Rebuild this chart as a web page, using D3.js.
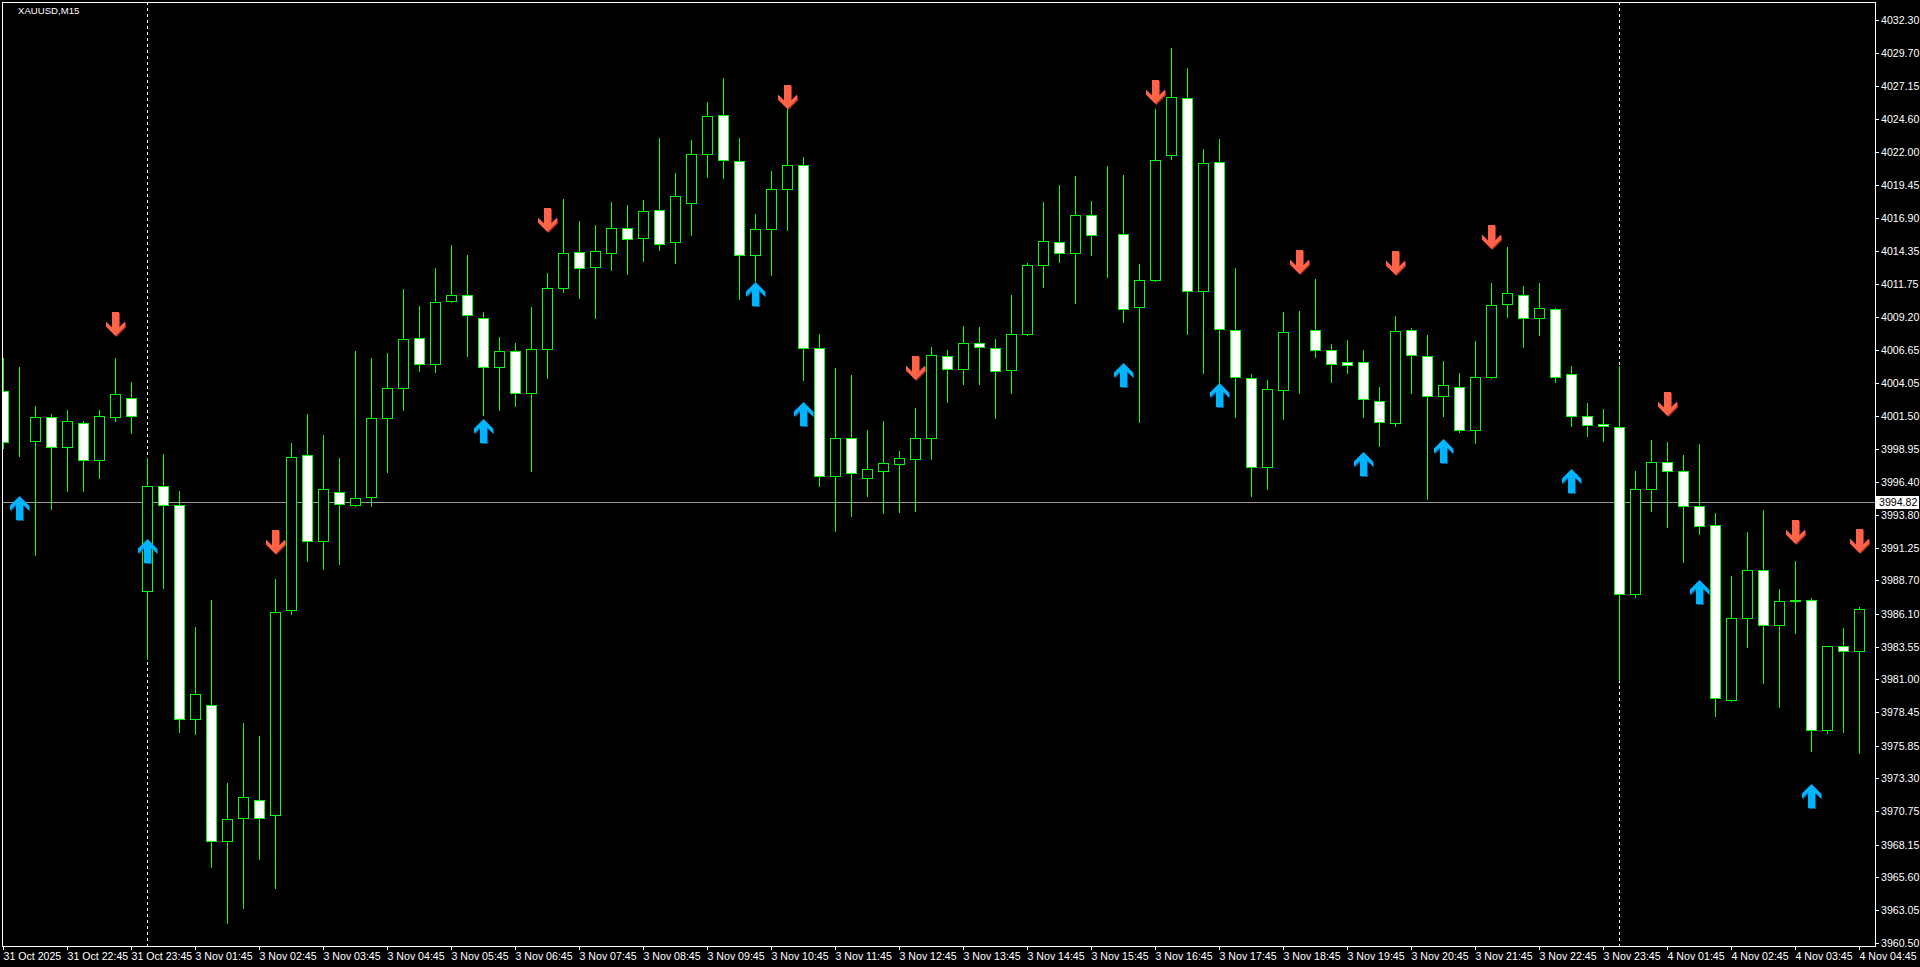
<!DOCTYPE html>
<html><head><meta charset="utf-8">
<script src="https://cdn.jsdelivr.net/npm/d3@7"></script>
<style>html,body{margin:0;padding:0;background:#000;overflow:hidden}svg{display:block}</style>
</head><body><svg id="c" width="1920" height="967"></svg>
<script>
const symbolTitle = "XAUUSD,M15";
const opens = [4003.46,3999.50,3999.56,4001.43,3999.05,4000.98,3998.05,4001.43,4002.91,3987.92,
3996.08,3994.60,3977.96,3979.03,3968.42,3970.19,3971.64,3970.42,3986.38,3998.49,
3991.81,3995.59,3994.60,3995.23,4001.37,4003.70,4007.59,4005.57,4010.47,4010.93,
4009.15,4005.34,4006.58,4003.31,4006.74,4011.48,4014.28,4013.12,4014.20,4016.15,
4015.34,4017.55,4015.03,4018.07,4021.88,4024.94,4021.36,4014.05,4016.07,4019.18,
4021.05,4006.82,3996.79,3999.82,3996.71,3997.25,3997.80,3998.18,3999.82,4006.17,
4005.16,4007.18,4006.82,4005.08,4007.90,4013.27,4015.03,4014.18,4017.16,4015.65,
4015.68,4010.00,4012.10,4021.80,4026.25,4011.24,4021.28,4008.21,4004.48,3997.56,
4003.55,4008.11,4008.21,4006.66,4005.72,4005.72,4002.69,4000.98,4008.21,4006.19,
4003.08,4003.78,4000.44,4004.56,4010.23,4010.91,4009.15,4009.85,4004.79,4001.53,
4000.90,4000.67,3987.66,3995.85,3997.95,3997.25,3994.53,3992.98,3979.37,3985.82,
3989.55,3985.20,3987.22,3987.22,3977.06,3983.57,3983.20];
const highs = [4005.98,4005.27,4002.24,4001.62,4001.95,4001.08,4001.95,4006.04,4004.11,3998.21,
3998.53,3995.63,3985.05,3987.15,3972.93,3977.61,3976.58,3988.79,3999.43,4001.63,
4000.00,3998.21,4006.53,4005.98,4006.37,4011.35,4010.03,4012.98,4014.77,4013.99,
4009.56,4007.62,4007.15,4009.95,4012.59,4018.40,4016.64,4016.33,4018.12,4017.88,
4018.27,4023.09,4020.37,4022.94,4025.89,4027.76,4023.09,4017.18,4020.53,4025.40,
4021.62,4007.85,4005.21,4004.67,4000.39,4001.09,3998.75,4002.10,4006.84,4006.61,
4008.47,4008.40,4007.46,4010.88,4013.37,4018.12,4019.44,4020.14,4018.19,4020.92,
4020.22,4013.30,4025.40,4030.09,4028.58,4022.23,4023.01,4013.03,4004.79,4004.27,
4009.56,4009.64,4012.13,4007.07,4007.38,4006.66,4003.73,4009.25,4008.32,4007.82,
4005.80,4004.87,4007.36,4011.87,4014.67,4011.63,4011.87,4009.90,4005.36,4002.48,
4002.02,4005.37,3997.18,3999.61,3999.46,3998.45,3999.30,3993.94,3989.04,3992.46,
3994.17,3988.03,3990.20,3987.30,3983.60,3984.99,3986.60];
const lows = [3998.98,3998.40,3990.70,3994.27,3995.66,3995.66,3996.69,4001.11,4000.17,3982.60,
3988.12,3976.93,3976.77,3966.42,3962.04,3963.20,3967.07,3964.81,3986.12,3990.22,
3989.60,3989.99,3994.50,3994.50,3997.14,4001.97,4005.00,4004.92,4010.36,4006.17,
4001.58,4001.97,4002.28,3997.22,4004.45,4011.14,4010.68,4009.12,4012.83,4012.55,
4013.53,4014.39,4013.40,4015.58,4020.09,4020.01,4010.60,4012.00,4012.44,4015.94,
4004.28,3996.06,3992.56,3993.73,3995.28,3993.96,3994.04,3994.12,3998.16,4002.59,
4003.99,4003.99,4001.35,4003.29,4007.77,4011.53,4013.48,4010.29,4014.02,4012.31,
4008.81,4001.04,4012.00,4021.50,4007.87,4004.84,4004.01,4001.42,3995.26,3995.83,
4001.29,4003.29,4006.09,4004.14,4004.84,4001.42,3999.17,4000.72,4003.29,3995.05,
4001.50,4000.26,3999.40,4004.48,4009.20,4006.87,4007.80,4004.14,4000.72,3999.94,
3999.56,3980.95,3987.43,3994.12,3992.87,3990.15,3992.33,3978.18,3979.30,3983.54,
3980.74,3978.88,3984.63,3975.45,3976.85,3976.93,3975.25];
const closes = [3999.50,3999.50,4001.43,3999.05,4001.14,3998.11,4001.53,4003.24,4001.46,3996.08,
3994.60,3977.90,3979.90,3968.42,3970.16,3971.87,3970.19,3986.28,3998.34,3991.81,
3995.85,3994.68,3995.15,4001.37,4003.70,4007.51,4005.57,4010.39,4010.93,4009.38,
4005.34,4006.58,4003.31,4006.74,4011.48,4014.20,4013.03,4014.36,4016.15,4015.29,
4017.47,4014.90,4018.64,4021.90,4024.86,4021.44,4014.05,4016.07,4019.18,4021.05,
4006.82,3996.84,3999.82,3997.10,3997.41,3997.87,3998.26,3999.82,4006.27,4005.16,
4007.20,4006.89,4005.03,4007.90,4013.27,4015.14,4014.20,4017.16,4015.60,4015.65,
4009.85,4012.10,4021.43,4026.33,4011.24,4021.20,4008.29,4004.56,3997.56,4003.62,
4008.06,4008.11,4006.66,4005.57,4005.49,4002.85,4001.06,4008.13,4006.27,4003.08,
4003.94,4000.44,4004.56,4010.16,4011.09,4009.15,4009.92,4004.56,4001.53,4000.83,
4000.75,3987.66,3995.85,3997.95,3997.18,3994.53,3992.90,3979.52,3985.82,3989.55,
3985.20,3987.07,3987.07,3977.06,3983.57,3983.20,3986.52];

const timeLabels = ["31 Oct 2025","31 Oct 22:45","31 Oct 23:45","3 Nov 01:45","3 Nov 02:45",
"3 Nov 03:45","3 Nov 04:45","3 Nov 05:45","3 Nov 06:45","3 Nov 07:45","3 Nov 08:45",
"3 Nov 09:45","3 Nov 10:45","3 Nov 11:45","3 Nov 12:45","3 Nov 13:45","3 Nov 14:45",
"3 Nov 15:45","3 Nov 16:45","3 Nov 17:45","3 Nov 18:45","3 Nov 19:45","3 Nov 20:45",
"3 Nov 21:45","3 Nov 22:45","3 Nov 23:45","4 Nov 01:45","4 Nov 02:45","4 Nov 03:45","4 Nov 04:45"];
const timeLabelBars = [0,4,8,12,16,20,24,28,32,36,40,44,48,52,56,60,64,68,72,76,80,84,88,92,96,100,104,108,112,116];
const priceTicks = [4032.30,4029.70,4027.15,4024.60,4022.00,4019.45,4016.90,4014.35,4011.75,
4009.20,4006.65,4004.05,4001.50,3998.95,3996.40,3993.80,3991.25,3988.70,3986.10,3983.55,
3981.00,3978.45,3975.85,3973.30,3970.75,3968.15,3965.60,3963.05,3960.50];
const bidPrice = 3994.82;
const separatorBars = [9, 101];
const upArrowBars = [1,9,30,47,50,70,76,85,90,98,106,113];
const upArrowPrices = [3995.27,3991.89,4001.24,4011.95,4002.62,4005.62,4004.06,3998.70,3999.71,3997.38,3988.72,3972.83];
const downArrowBars = [7,17,34,49,57,72,81,87,93,104,112,116];
const downArrowPrices = [4007.69,3990.73,4015.81,4025.40,4004.27,4025.79,4012.57,4012.49,4014.51,4001.53,3991.57,3990.87];

const FONT = "'Liberation Sans', Arial, sans-serif";
const svg = d3.select("#c");
const frame = {left:2, top:2, right:1875, bottom:946};

const x = d3.scaleLinear().domain([0, opens.length - 1]).range([3, 3 + 16 * (opens.length - 1)]).interpolate(d3.interpolateRound);
const y = d3.scaleLinear().domain([3960.50, 4032.30]).range([943, 20]).interpolate(d3.interpolateRound);

svg.append("rect").attr("width",1920).attr("height",967).attr("fill","#000");

svg.append("defs").append("clipPath").attr("id","plotclip").append("rect")
  .attr("x",frame.left+1).attr("y",frame.top+1)
  .attr("width",frame.right-frame.left-1).attr("height",frame.bottom-frame.top-1);

const plot = svg.append("g").attr("clip-path","url(#plotclip)");

// period separators
plot.selectAll("line.sep").data(separatorBars).join("line")
  .attr("x1",d=>x(d)+0.5).attr("x2",d=>x(d)+0.5)
  .attr("y1",frame.top).attr("y2",frame.bottom)
  .attr("stroke","#fff").attr("stroke-width",1).attr("stroke-dasharray","3,3");

// bid line
plot.append("line").attr("x1",frame.left).attr("x2",frame.right)
  .attr("y1",y(bidPrice)+0.5).attr("y2",y(bidPrice)+0.5)
  .attr("stroke","#9a9a9a").attr("stroke-width",1);

const bars = d3.range(opens.length).map(i=>({i,o:opens[i],h:highs[i],l:lows[i],c:closes[i]}));
const cg = plot.selectAll("g.c").data(bars).join("g");
cg.append("line")
  .attr("x1",d=>x(d.i)+0.5).attr("x2",d=>x(d.i)+0.5)
  .attr("y1",d=>y(d.h)).attr("y2",d=>y(d.l)+1)
  .attr("stroke","#00ff00").attr("stroke-width",1);
cg.append("rect")
  .attr("x",d=>x(d.i)-4.5).attr("width",10)
  .attr("y",d=>y(Math.max(d.o,d.c))+0.5)
  .attr("height",d=>Math.max(0,y(Math.min(d.o,d.c))-y(Math.max(d.o,d.c))))
  .attr("fill",d=>d.c>=d.o?"#000":"#fff")
  .attr("stroke","#00ff00").attr("stroke-width",1);

// arrows
const upShape = [[0,0],[9.5,9.5],[9.5,14.5],[3.5,8.5],[3.5,24],[-3.5,24],[-3.5,8.5],[-9.5,14.5],[-9.5,9.5]];
const dnShape = upShape.map(p=>[p[0],-p[1]]);
const poly = pts => "M" + pts.map(p=>p[0]+","+p[1]).join("L") + "Z";
function drawArrows(idx, prices, shape, fill, shade){
  const g = plot.selectAll(null).data(idx.map((b,j)=>({b,p:prices[j]}))).join("g")
    .attr("transform",d=>`translate(${x(d.b)+0.5},${y(d.p)})`);
  g.append("path").attr("d",poly(shape)).attr("fill",shade).attr("transform","translate(1,1)");
  g.append("path").attr("d",poly(shape)).attr("fill",fill);
}
drawArrows(upArrowBars, upArrowPrices, upShape, "#00b4ff", "#005a8c");
drawArrows(downArrowBars, downArrowPrices, dnShape, "#ff6347", "#9a3020");

// frame
svg.append("rect").attr("x",frame.left+0.5).attr("y",frame.top+0.5)
  .attr("width",frame.right-frame.left).attr("height",frame.bottom-frame.top)
  .attr("fill","none").attr("stroke","#fff").attr("stroke-width",1);

// title
svg.append("text").attr("x",18).attr("y",14).attr("fill","#fff")
  .attr("font-family",FONT).attr("font-size","9.6px").text(symbolTitle);

// right price axis
const yAxis = d3.axisRight(y).tickValues(priceTicks).tickFormat(d3.format(".2f")).tickSize(4).tickPadding(2);
const ya = svg.append("g").attr("transform",`translate(${frame.right},0)`).call(yAxis);
ya.select(".domain").remove();
ya.selectAll("line").attr("stroke","#fff");
ya.selectAll("text").attr("fill","#fff").attr("font-family",FONT).attr("font-size","10.6px");

// bottom time axis
const xAxis = d3.axisBottom(x).tickValues(timeLabelBars).tickFormat((d,i)=>timeLabels[i]).tickSize(4);
const xa = svg.append("g").attr("transform",`translate(0,${frame.bottom})`).call(xAxis);
xa.select(".domain").remove();
xa.selectAll("line").attr("stroke","#fff");
xa.selectAll("text").attr("fill","#fff").attr("font-family",FONT).attr("font-size","10.6px")
  .attr("text-anchor","start").attr("x",0).attr("y",14).attr("dy",0);

// bid label
const by = y(bidPrice);
svg.append("rect").attr("x",1876).attr("y",by-6).attr("width",43).attr("height",13).attr("fill","#fff");
svg.append("text").attr("x",1879).attr("y",by+4).attr("fill","#000")
  .attr("font-family",FONT).attr("font-size","10.6px").text(bidPrice.toFixed(2));
</script>
</body></html>
